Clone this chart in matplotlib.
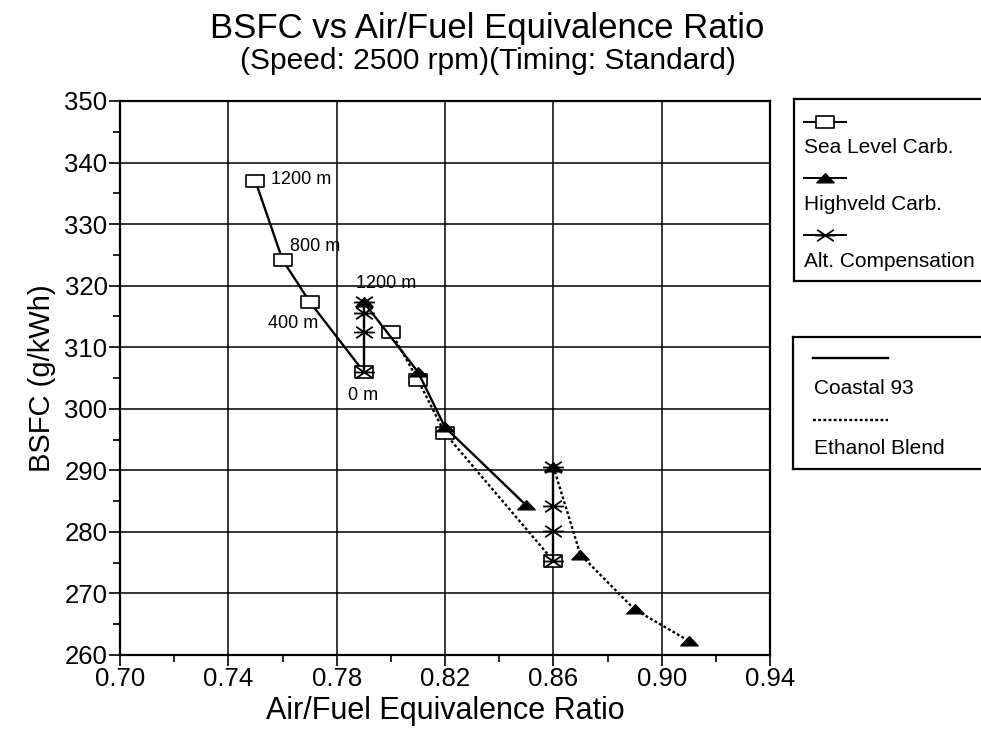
import numpy as np
import matplotlib
matplotlib.use("Agg")
import matplotlib.pyplot as plt
from matplotlib.path import Path

plt.rcParams['font.family'] = ['Liberation Sans', 'DejaVu Sans']

# ============================================
# Data
# ============================================

# Coastal 93 (solid line)
coastal_sea_x = [0.75, 0.76, 0.77, 0.79]
coastal_sea_y = [337.0, 324.2, 317.4, 306.0]
coastal_alt_x = [0.79, 0.79, 0.79, 0.79]
coastal_alt_y = [306.0, 312.5, 315.5, 317.3]
coastal_high_x = [0.79, 0.81, 0.82, 0.85]
coastal_high_y = [317.3, 306.0, 297.0, 284.3]

# Ethanol Blend (dotted line)
ethanol_sea_x = [0.80, 0.81, 0.82, 0.86]
ethanol_sea_y = [312.5, 304.7, 296.0, 275.3]
ethanol_alt_x = [0.86, 0.86, 0.86, 0.86]
ethanol_alt_y = [275.3, 280.2, 284.2, 290.6]
ethanol_high_x = [0.86, 0.87, 0.89, 0.91]
ethanol_high_y = [290.6, 276.3, 267.4, 262.3]

# altitude labels on the Coastal 93 curves
alt_labels = ["1200 m", "800 m", "400 m", "0 m", "1200 m"]
alt_label_x = [0.7556, 0.7626, 0.7548, 0.7841, 0.7870]
alt_label_y = [337.3, 326.4, 313.9, 302.2, 320.4]

x_ticks = [0.70, 0.74, 0.78, 0.82, 0.86, 0.90, 0.94]
x_minor = [0.72, 0.76, 0.80, 0.84, 0.88, 0.92]
y_ticks = [260, 270, 280, 290, 300, 310, 320, 330, 340, 350]
y_minor = [265, 275, 285, 295, 305, 315, 325, 335, 345]

# ============================================
# Markers
# ============================================

rect_marker = Path([(-1, -0.62), (1, -0.62), (1, 0.62), (-1, 0.62), (-1, -0.62)],
                   [Path.MOVETO, Path.LINETO, Path.LINETO, Path.LINETO, Path.CLOSEPOLY])
tri_marker = Path([(-1, -0.5), (1, -0.5), (0, 0.55), (-1, -0.5)],
                  [Path.MOVETO, Path.LINETO, Path.LINETO, Path.CLOSEPOLY])
star_marker = Path([(-1, 0), (1, 0), (-0.8, -0.55), (0.8, 0.55), (-0.8, 0.55), (0.8, -0.55)],
                   [Path.MOVETO, Path.LINETO, Path.MOVETO, Path.LINETO, Path.MOVETO, Path.LINETO])

sq_kw = dict(marker=rect_marker, markersize=13, markerfacecolor='white',
             markeredgecolor='black', markeredgewidth=1.2)
tri_kw = dict(marker=tri_marker, markersize=12.5, markerfacecolor='black',
              markeredgecolor='black')
star_kw = dict(marker=star_marker, markersize=15, markerfacecolor='none',
               markeredgecolor='black', markeredgewidth=1.3)

# ============================================
# Figure
# ============================================

fig = plt.figure(figsize=(9.81, 7.31), dpi=100)
ax = fig.add_axes([120 / 981, 1 - 655 / 731, 650 / 981, 554 / 731])

solid = dict(color='black', lw=1.7, linestyle='-')
dotted = dict(color='black', lw=1.7, linestyle=(0, (1.2, 1.0)))

ax.plot(coastal_sea_x, coastal_sea_y, **solid, **sq_kw, zorder=4)
ax.plot(ethanol_sea_x, ethanol_sea_y, **dotted, **sq_kw, zorder=4)
ax.plot(coastal_high_x, coastal_high_y, **solid, **tri_kw, zorder=5)
ax.plot(ethanol_high_x, ethanol_high_y, **dotted, **tri_kw, zorder=5)
ax.plot(coastal_alt_x, coastal_alt_y, **solid, **star_kw, zorder=6)
ax.plot(ethanol_alt_x, ethanol_alt_y, **solid, **star_kw, zorder=6)

for lab, lx, ly in zip(alt_labels, alt_label_x, alt_label_y):
    ax.text(lx, ly, lab, fontsize=13, ha='left', va='center', zorder=7)

ax.set_xlim(0.70, 0.94)
ax.set_ylim(260, 350)
ax.set_xticks(x_ticks)
ax.set_xticks(x_minor, minor=True)
ax.set_xticklabels([f"{v:.2f}" for v in x_ticks])
ax.set_yticks(y_ticks)
ax.set_yticks(y_minor, minor=True)
ax.tick_params(which='major', direction='out', length=8, width=1.2, labelsize=18.5, pad=1)
ax.tick_params(which='minor', direction='out', length=5, width=1.2)
ax.grid(True, which='major', color='black', lw=1.1)
ax.set_axisbelow(True)
for s in ax.spines.values():
    s.set_linewidth(1.6)

ax.set_xlabel("Air/Fuel Equivalence Ratio", fontsize=22, labelpad=3)
ax.set_ylabel("BSFC (g/kWh)", fontsize=21, labelpad=6)

fig.text(0.497, 0.961, "BSFC vs Air/Fuel Equivalence Ratio", fontsize=25,
         ha='center', va='center')
fig.text(0.497, 0.917, "(Speed: 2500 rpm)(Timing: Standard)", fontsize=21.5,
         ha='center', va='center')

# ============================================
# Legend boxes (drawn by hand, sample above label)
# ============================================

def legend_box(left, top, bottom):
    lax = fig.add_axes([left / 981, 1 - bottom / 731, 260 / 981, (bottom - top) / 731])
    lax.set_xlim(left, left + 260)
    lax.set_ylim(bottom, top)
    lax.set_xticks([])
    lax.set_yticks([])
    for s in lax.spines.values():
        s.set_linewidth(1.6)
    return lax

lax1 = legend_box(794, 99, 281)
items1 = [("Sea Level Carb.", sq_kw, 122, 148),
          ("Highveld Carb.", tri_kw, 178, 205),
          ("Alt. Compensation", star_kw, 235, 262)]
for lab, kw, ys, yt in items1:
    lax1.plot([804, 846], [ys, ys], color='black', lw=1.4, linestyle='-')
    lax1.plot([825], [ys], linestyle='none', **kw)
    lax1.text(804, yt, lab, fontsize=15, ha='left', va='center')

lax2 = legend_box(793, 337, 469)
lax2.plot([813, 888], [358, 358], **solid)
lax2.text(814, 388, "Coastal 93", fontsize=15, ha='left', va='center')
lax2.plot([813, 888], [420, 420], **dotted)
lax2.text(814, 448, "Ethanol Blend", fontsize=15, ha='left', va='center')

fig.savefig("out.png", dpi=100)
